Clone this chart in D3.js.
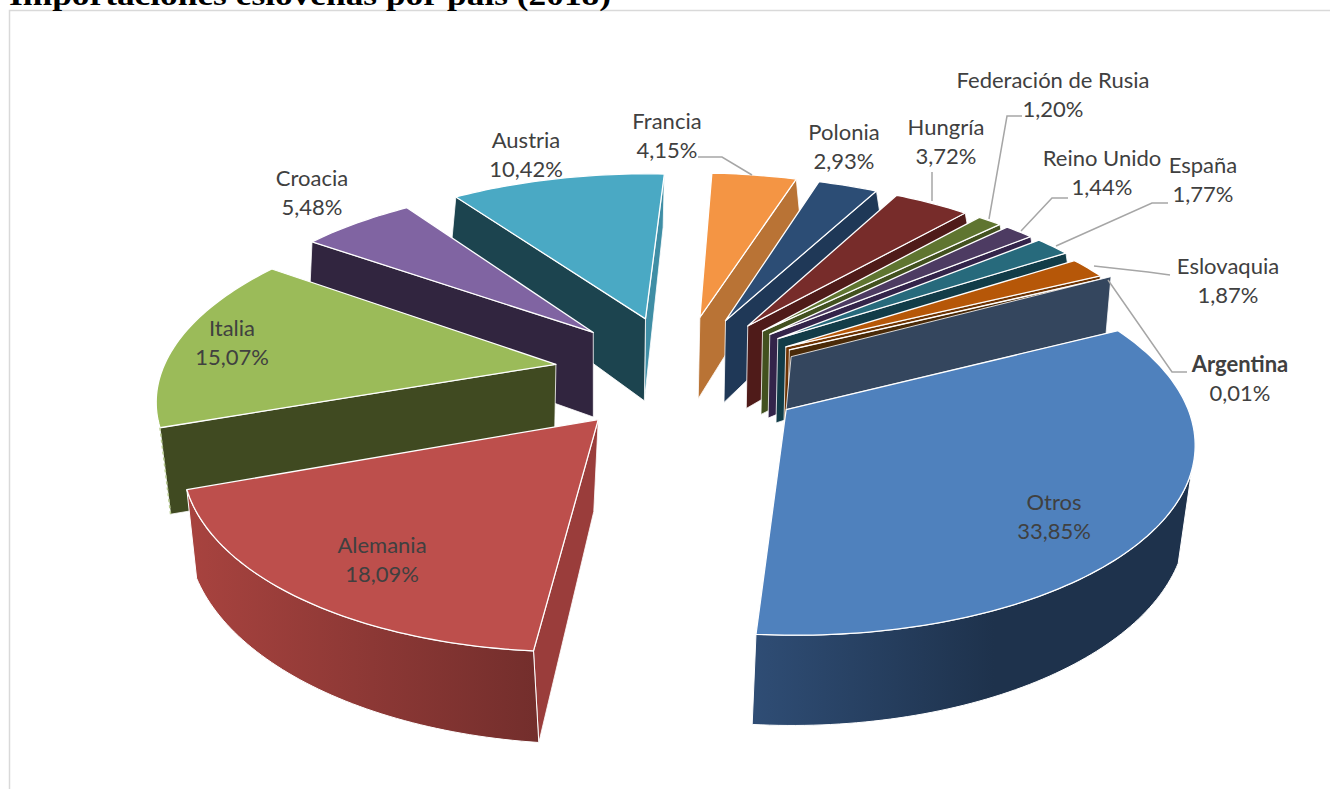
<!DOCTYPE html>
<html><head><meta charset="utf-8">
<script src="https://cdnjs.cloudflare.com/ajax/libs/d3/7.8.5/d3.min.js"></script>
<style>html,body{margin:0;padding:0;background:#fff;overflow:hidden}svg{display:block}</style>
</head><body><svg id="c" width="1330" height="789"></svg>
<script>
const categories=["Francia","Polonia","Hungría","Federación de Rusia","Reino Unido","España","Eslovaquia","Argentina","Otros","Alemania","Italia","Croacia","Austria"];
const shares=[4.15,2.93,3.72,1.20,1.44,1.77,1.87,0.01,33.85,18.09,15.07,5.48,10.42];
const title="Importaciones eslovenas por país (2018)";

const faceColors=["#f49544","#2c4d75","#772c2a","#5f7530","#4d3b62","#276a7c","#b65708","#729aca","#4f81bd","#bd4f4c","#9bbb59","#8064a2","#4aa9c4"];
const wallColors=["#b97335","#1f3857","#4f1b19","#42511f","#33244a","#123c48","#6e3403","#4a2a08","#34465e","#9a3d3b","#404a21","#31253f","#1c444f"];
const austriaEndWall="#3f8ea5";
const labelPos=[[667,122],[844,133],[946,128],[1053,81],[1102,159],[1203,166],[1228,267],[1240,365],[1054,503],[382,546],[232,329],[312,179],[526,141]];
const leaders=[[[698,157],[722,157],[752,175]],null,[[932,172],[932,201]],[[1022,116],[1007,116],[989,219]],[[1068,198],[1052,198],[1021,231]],[[1168,203],[1152,203],[1056,246]],[[1170,275],[1148,272],[1094,266]],[[1187,372],[1172,372],[1108,280]],null,null,null,null,null];

const svg=d3.select("#c");
const defs=svg.append("defs");
function grad(id,stops){const g=defs.append("linearGradient").attr("id",id);stops.forEach(([o,c])=>g.append("stop").attr("offset",o).attr("stop-color",c));}
grad("rimOtros",[[0,"#2f4d75"],[0.55,"#1e324c"],[1,"#1e324c"]]);
grad("rimAlemania",[[0,"#a8433f"],[1,"#732e2c"]]);

// frame + clipped title
svg.append("path").attr("d","M9.5,789V10.5H1330").attr("fill","none").attr("stroke","#d9d9d9").attr("stroke-width",1.5);
svg.append("text").attr("x",9).attr("y",5).attr("textLength",602).attr("lengthAdjust","spacingAndGlyphs")
  .attr("font-family","'Liberation Serif',serif").attr("font-weight","bold").attr("font-size",29).attr("fill","#000").text(title);

// pie layout + projection of the tilted disc
const arcs=d3.pie().sort(null).startAngle(0).endAngle(2*Math.PI)(shares);
const EXPL=0.32;
const iAus=12,iCro=11,iIta=10,iAle=9,iOtr=8;
const P={x0:679,ax:392,s:17.5,h:0.15,K:1207,yh:-835,t:6.5};
const Q={x0:677,ax:388,s:18,h:0.093,K:2152,yh:-1692,t:8};
const planeTop=i=>i===iOtr?{...P,x0:680,ax:394,yh:P.yh+4}:i===iAle?{...P,ax:389}:i===iIta?{...P,ax:390}:(i===6||i===7)?{...P,yh:P.yh+3}:P;
const planeLow=i=>i===iOtr?{...Q,x0:Q.x0+6,ax:392}:i===iAle?{...Q,x0:Q.x0-3,ax:392,t:14,yh:Q.yh+1}:i===iIta?{...Q,t:12}:(i===iCro||i===iAus)?{...Q,ax:379,t:2}:Q;
const proj=(C,[u,v])=>{const w=1+C.h*v;return [C.x0+(C.ax*u+C.s*v)/w,C.yh+C.K/w+C.t*u];};
const midAngle=a=>(a.startAngle+a.endAngle)/2;
const disc=(a,r,t)=>{const m=midAngle(a);return [EXPL*Math.sin(m)+r*Math.sin(t),EXPL*Math.cos(m)+r*Math.cos(t)];};
const arcPts=(a,C,t0,t1)=>{const n=Math.max(2,Math.ceil(Math.abs(t1-t0)/0.02));return d3.range(n+1).map(i=>proj(C,disc(a,1,t0+(t1-t0)*i/n)));};
const lineGen=d3.line();
const closed=pts=>lineGen(pts)+"Z";

const gMarks=svg.append("g");
function face(pts,fill,sw){gMarks.append("path").attr("d",closed(pts)).attr("fill",fill).attr("stroke","#fff").attr("stroke-width",sw).attr("stroke-linejoin","round");}
function radialWall(i,t,fill,lowR=1){
  const a=arcs[i],T=planeTop(i),L=planeLow(i);
  face([proj(T,disc(a,0,t)),proj(T,disc(a,1,t)),proj(L,disc(a,lowR,t)),proj(L,disc(a,0,t))],fill,0.8);
}
function topFace(i){
  const a=arcs[i],T=planeTop(i);
  face([proj(T,disc(a,0,0)),...arcPts(a,T,a.startAngle,a.endAngle)],faceColors[i],1.3);
}
function rimFace(i,t0,t1,fill){
  const a=arcs[i];
  face([...arcPts(a,planeTop(i),t0,t1),...arcPts(a,planeLow(i),t1,t0)],fill,1);
}
// back fan, clockwise: each slice hides the wall of the previous one
d3.range(0,8).forEach(i=>{radialWall(i,arcs[i].endAngle,wallColors[i],i>=6?0.94:1);topFace(i);});
// the raised wall behind Otros
(function(){const i=iOtr,a=arcs[i],T=planeTop(i);const A=proj(T,disc(a,0,0)),B=proj(T,disc(a,1,a.startAngle));
  face([A,[B[0]-12,B[1]+3],[B[0]-7,B[1]-54],[A[0]+5,A[1]-53]],wallColors[i],0.8);})();
// left side, back to front
radialWall(iAus,arcs[iAus].endAngle,austriaEndWall);
radialWall(iAus,arcs[iAus].startAngle,wallColors[iAus]);topFace(iAus);
radialWall(iCro,arcs[iCro].startAngle,wallColors[iCro]);topFace(iCro);
radialWall(iIta,arcs[iIta].startAngle,wallColors[iIta]);topFace(iIta);
// the faint remainder of Italia's rim along its wall
(function(){const a=arcs[iIta],t=a.startAngle;
  gMarks.append("path").attr("d",lineGen([proj(planeTop(iIta),disc(a,1,t)),proj(planeLow(iIta),disc(a,1,t))]))
   .attr("fill","none").attr("stroke","#b5c98d").attr("stroke-width",1.5).attr("stroke-dasharray","3,3");})();
radialWall(iAle,arcs[iAle].startAngle,wallColors[iAle]);
rimFace(iAle,arcs[iAle].startAngle,arcs[iAle].endAngle,"url(#rimAlemania)");topFace(iAle);
rimFace(iOtr,106*Math.PI/180,arcs[iOtr].endAngle,"url(#rimOtros)");topFace(iOtr);

// leader lines
svg.append("g").selectAll("path").data(leaders.filter(Boolean)).join("path")
  .attr("d",d=>lineGen(d)).attr("fill","none").attr("stroke","#a6a6a6").attr("stroke-width",1.5);

// labels
const fmt=v=>v.toFixed(2).replace(".",",")+"%";
const lab=svg.append("g").attr("font-family","Lato,sans-serif").attr("font-size",22).attr("fill","#404040").attr("text-anchor","middle");
categories.forEach((c,i)=>{
  const [x,y]=labelPos[i];
  lab.append("text").attr("x",x).attr("y",y+7).attr("font-weight",c==="Argentina"?"bold":null).text(c);
  lab.append("text").attr("x",x).attr("y",y+36).text(fmt(shares[i]));
});
</script></body></html>
